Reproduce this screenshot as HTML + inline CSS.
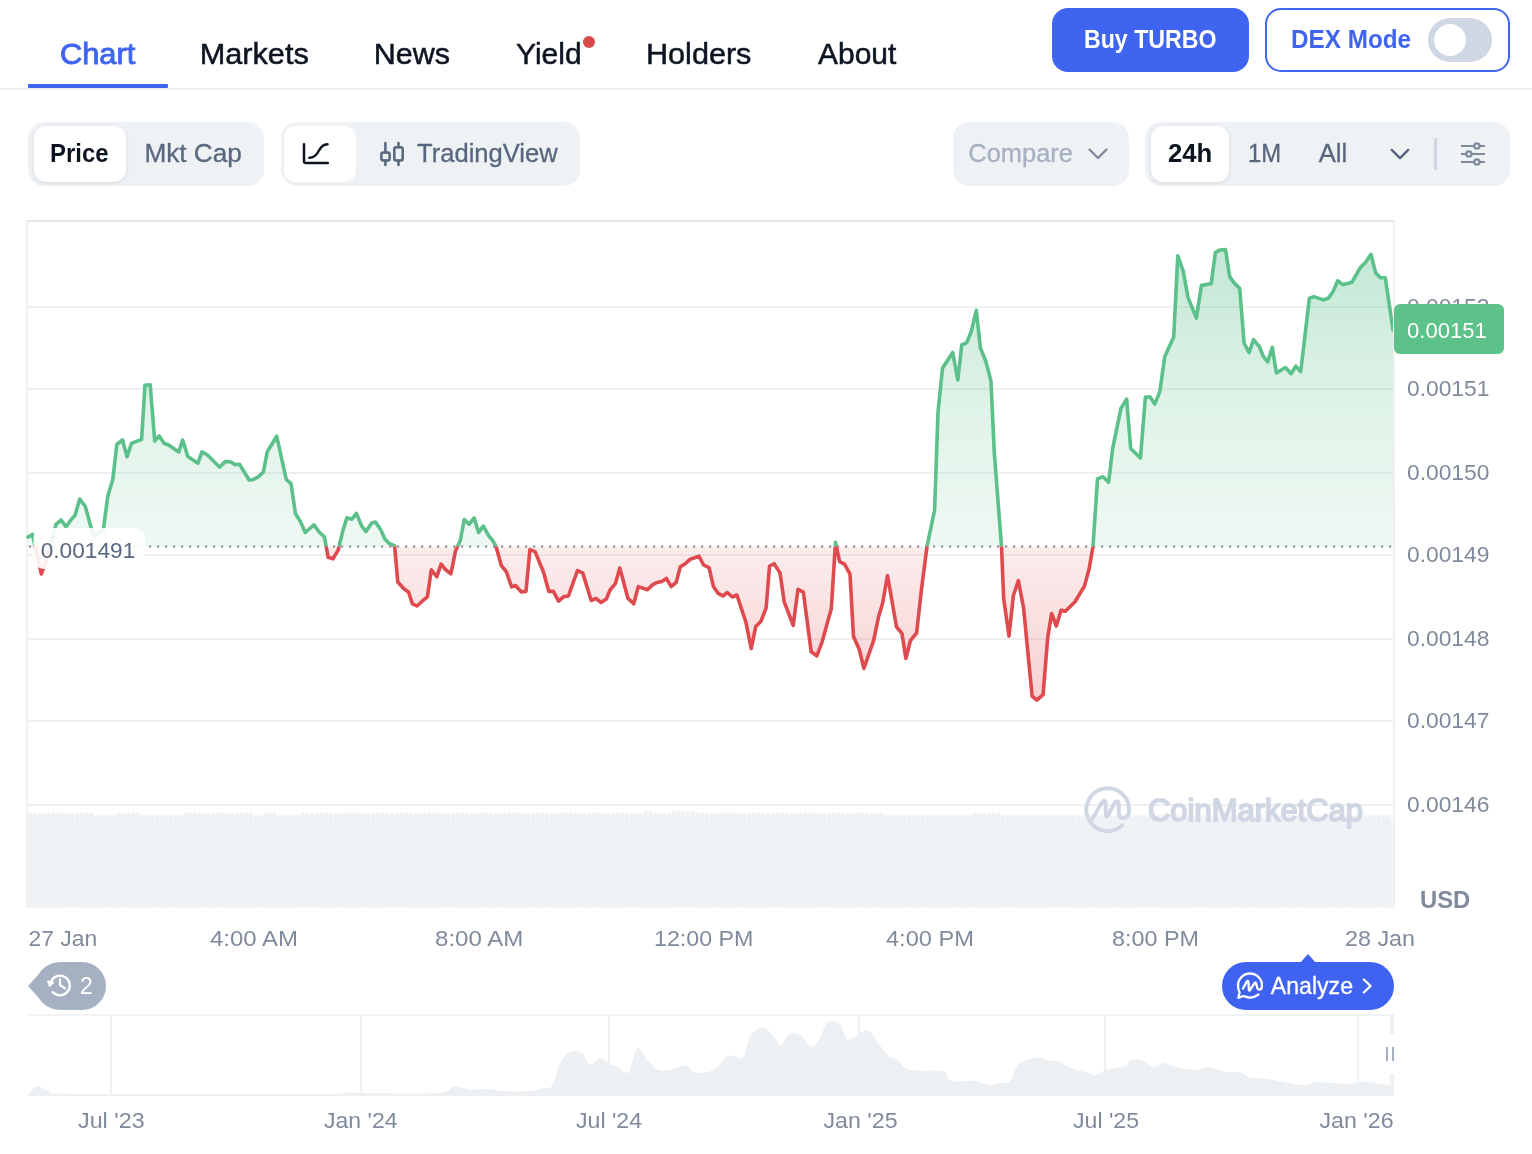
<!DOCTYPE html>
<html><head><meta charset="utf-8"><title>TURBO Chart</title>
<style>
html,body{margin:0;padding:0;background:#fff;}
body{width:1532px;height:1154px;overflow:hidden;position:relative;font-family:"Liberation Sans",sans-serif;}
.box{position:absolute;box-sizing:border-box;}
svg{position:absolute;left:0;top:0;}
svg text{font-family:"Liberation Sans",sans-serif;}
</style></head>
<body>
<!-- header -->
<div class="box" style="left:0;top:88px;width:1532px;height:2px;background:#EFF2F5"></div>
<div class="box" style="left:28px;top:84px;width:140px;height:4px;background:#3F65F0;border-radius:1px"></div>
<div class="box" style="left:1052px;top:8px;width:197px;height:64px;background:#3F65F0;border-radius:16px"></div>
<div class="box" style="left:1265px;top:8px;width:245px;height:64px;border:2px solid #3F65F0;border-radius:16px;background:#fff"></div>
<div class="box" style="left:1428px;top:18px;width:64px;height:44px;background:#CFD6E4;border-radius:22px"></div>
<div class="box" style="left:1434px;top:24px;width:32px;height:32px;background:#fff;border-radius:50%"></div>
<div class="box" style="left:583px;top:36px;width:12px;height:12px;background:#D84949;border-radius:50%"></div>
<!-- controls -->
<div class="box" style="left:28px;top:122px;width:236px;height:64px;background:#EFF2F5;border-radius:16px"></div>
<div class="box" style="left:34px;top:126px;width:92px;height:56px;background:#fff;border-radius:12px;box-shadow:0 1px 4px rgba(88,102,126,0.18)"></div>
<div class="box" style="left:281px;top:122px;width:299px;height:64px;background:#EFF2F5;border-radius:16px"></div>
<div class="box" style="left:284px;top:126px;width:72px;height:56px;background:#fff;border-radius:12px"></div>
<div class="box" style="left:953px;top:122px;width:176px;height:64px;background:#EFF2F5;border-radius:16px"></div>
<div class="box" style="left:1145px;top:122px;width:365px;height:64px;background:#EFF2F5;border-radius:16px"></div>
<div class="box" style="left:1151px;top:126px;width:78px;height:56px;background:#fff;border-radius:12px;box-shadow:0 1px 4px rgba(88,102,126,0.18)"></div>
<div class="box" style="left:1434px;top:138px;width:3px;height:32px;background:#CFD6E4"></div>

<svg width="1532" height="1154" viewBox="0 0 1532 1154" style="will-change:transform">
<defs>
<linearGradient id="gg" x1="0" y1="245" x2="0" y2="546.5" gradientUnits="userSpaceOnUse">
<stop offset="0" stop-color="#5BC08A" stop-opacity="0.37"/>
<stop offset="0.5" stop-color="#5BC08A" stop-opacity="0.2"/>
<stop offset="1" stop-color="#5BC08A" stop-opacity="0.1"/>
</linearGradient>
<linearGradient id="rg" x1="0" y1="546.5" x2="0" y2="705" gradientUnits="userSpaceOnUse">
<stop offset="0" stop-color="#DE4A4D" stop-opacity="0.10"/>
<stop offset="1" stop-color="#DE4A4D" stop-opacity="0.26"/>
</linearGradient>
<clipPath id="up"><rect x="0" y="0" width="1393" height="546.5"/></clipPath>
<clipPath id="dn"><rect x="0" y="546.5" width="1393" height="600"/></clipPath>
</defs>
<!-- chart frame -->
<rect x="26" y="220" width="1369" height="2" fill="#E6E6E6"/>
<rect x="26" y="220" width="2" height="688" fill="#F0F0F0"/>
<rect x="1393" y="220" width="2" height="688" fill="#F0F0F0"/>
<g fill="#F0F0F0">
<rect x="28" y="306" width="1365" height="2"/>
<rect x="28" y="388" width="1365" height="2"/>
<rect x="28" y="472" width="1365" height="2"/>
<rect x="28" y="554" width="1365" height="2"/>
<rect x="28" y="638" width="1365" height="2"/>
<rect x="28" y="720" width="1365" height="2"/>
<rect x="28" y="804" width="1365" height="2"/>
</g>
<!-- volume -->
<rect x="28" y="818" width="1365" height="89.5" fill="#F2F4F7"/>
<g fill="#EFF2F5">
<rect x="28.00" y="812.3" width="4.1" height="95.2" rx="2"/>
<rect x="32.70" y="812.3" width="4.1" height="95.2" rx="2"/>
<rect x="37.40" y="812.3" width="4.1" height="95.2" rx="2"/>
<rect x="42.10" y="812.3" width="4.1" height="95.2" rx="2"/>
<rect x="46.80" y="812.3" width="4.1" height="95.2" rx="2"/>
<rect x="51.50" y="812.3" width="4.1" height="95.2" rx="2"/>
<rect x="56.20" y="812.3" width="4.1" height="95.2" rx="2"/>
<rect x="60.90" y="812.3" width="4.1" height="95.2" rx="2"/>
<rect x="65.60" y="812.3" width="4.1" height="95.2" rx="2"/>
<rect x="70.30" y="812.3" width="4.1" height="95.2" rx="2"/>
<rect x="75.00" y="812.3" width="4.1" height="95.2" rx="2"/>
<rect x="79.70" y="812.3" width="4.1" height="95.2" rx="2"/>
<rect x="84.40" y="812.3" width="4.1" height="95.2" rx="2"/>
<rect x="89.10" y="812.3" width="4.1" height="95.2" rx="2"/>
<rect x="93.80" y="814.8" width="4.1" height="92.7" rx="2"/>
<rect x="98.50" y="814.8" width="4.1" height="92.7" rx="2"/>
<rect x="103.20" y="814.8" width="4.1" height="92.7" rx="2"/>
<rect x="107.90" y="814.8" width="4.1" height="92.7" rx="2"/>
<rect x="112.60" y="814.8" width="4.1" height="92.7" rx="2"/>
<rect x="117.30" y="812.3" width="4.1" height="95.2" rx="2"/>
<rect x="122.00" y="812.3" width="4.1" height="95.2" rx="2"/>
<rect x="126.70" y="812.3" width="4.1" height="95.2" rx="2"/>
<rect x="131.40" y="812.3" width="4.1" height="95.2" rx="2"/>
<rect x="136.10" y="812.3" width="4.1" height="95.2" rx="2"/>
<rect x="140.80" y="814.8" width="4.1" height="92.7" rx="2"/>
<rect x="145.50" y="814.8" width="4.1" height="92.7" rx="2"/>
<rect x="150.20" y="814.8" width="4.1" height="92.7" rx="2"/>
<rect x="154.90" y="814.8" width="4.1" height="92.7" rx="2"/>
<rect x="159.60" y="814.8" width="4.1" height="92.7" rx="2"/>
<rect x="164.30" y="814.8" width="4.1" height="92.7" rx="2"/>
<rect x="169.00" y="814.8" width="4.1" height="92.7" rx="2"/>
<rect x="173.70" y="814.8" width="4.1" height="92.7" rx="2"/>
<rect x="178.40" y="814.8" width="4.1" height="92.7" rx="2"/>
<rect x="183.10" y="812.3" width="4.1" height="95.2" rx="2"/>
<rect x="187.80" y="812.3" width="4.1" height="95.2" rx="2"/>
<rect x="192.50" y="812.3" width="4.1" height="95.2" rx="2"/>
<rect x="197.20" y="812.3" width="4.1" height="95.2" rx="2"/>
<rect x="201.90" y="812.3" width="4.1" height="95.2" rx="2"/>
<rect x="206.60" y="812.3" width="4.1" height="95.2" rx="2"/>
<rect x="211.30" y="812.3" width="4.1" height="95.2" rx="2"/>
<rect x="216.00" y="812.3" width="4.1" height="95.2" rx="2"/>
<rect x="220.70" y="812.3" width="4.1" height="95.2" rx="2"/>
<rect x="225.40" y="812.3" width="4.1" height="95.2" rx="2"/>
<rect x="230.10" y="812.3" width="4.1" height="95.2" rx="2"/>
<rect x="234.80" y="812.3" width="4.1" height="95.2" rx="2"/>
<rect x="239.50" y="812.3" width="4.1" height="95.2" rx="2"/>
<rect x="244.20" y="812.3" width="4.1" height="95.2" rx="2"/>
<rect x="248.90" y="812.3" width="4.1" height="95.2" rx="2"/>
<rect x="253.60" y="814.8" width="4.1" height="92.7" rx="2"/>
<rect x="258.30" y="814.8" width="4.1" height="92.7" rx="2"/>
<rect x="263.00" y="812.3" width="4.1" height="95.2" rx="2"/>
<rect x="267.70" y="812.3" width="4.1" height="95.2" rx="2"/>
<rect x="272.40" y="812.3" width="4.1" height="95.2" rx="2"/>
<rect x="277.10" y="814.8" width="4.1" height="92.7" rx="2"/>
<rect x="281.80" y="814.8" width="4.1" height="92.7" rx="2"/>
<rect x="286.50" y="814.8" width="4.1" height="92.7" rx="2"/>
<rect x="291.20" y="814.8" width="4.1" height="92.7" rx="2"/>
<rect x="295.90" y="814.8" width="4.1" height="92.7" rx="2"/>
<rect x="300.60" y="812.3" width="4.1" height="95.2" rx="2"/>
<rect x="305.30" y="812.3" width="4.1" height="95.2" rx="2"/>
<rect x="310.00" y="812.3" width="4.1" height="95.2" rx="2"/>
<rect x="314.70" y="812.3" width="4.1" height="95.2" rx="2"/>
<rect x="319.40" y="812.3" width="4.1" height="95.2" rx="2"/>
<rect x="324.10" y="812.3" width="4.1" height="95.2" rx="2"/>
<rect x="328.80" y="812.3" width="4.1" height="95.2" rx="2"/>
<rect x="333.50" y="812.3" width="4.1" height="95.2" rx="2"/>
<rect x="338.20" y="812.3" width="4.1" height="95.2" rx="2"/>
<rect x="342.90" y="812.3" width="4.1" height="95.2" rx="2"/>
<rect x="347.60" y="812.3" width="4.1" height="95.2" rx="2"/>
<rect x="352.30" y="812.3" width="4.1" height="95.2" rx="2"/>
<rect x="357.00" y="812.3" width="4.1" height="95.2" rx="2"/>
<rect x="361.70" y="812.3" width="4.1" height="95.2" rx="2"/>
<rect x="366.40" y="812.3" width="4.1" height="95.2" rx="2"/>
<rect x="371.10" y="812.3" width="4.1" height="95.2" rx="2"/>
<rect x="375.80" y="812.3" width="4.1" height="95.2" rx="2"/>
<rect x="380.50" y="812.3" width="4.1" height="95.2" rx="2"/>
<rect x="385.20" y="812.3" width="4.1" height="95.2" rx="2"/>
<rect x="389.90" y="812.3" width="4.1" height="95.2" rx="2"/>
<rect x="394.60" y="812.3" width="4.1" height="95.2" rx="2"/>
<rect x="399.30" y="812.3" width="4.1" height="95.2" rx="2"/>
<rect x="404.00" y="812.3" width="4.1" height="95.2" rx="2"/>
<rect x="408.70" y="812.3" width="4.1" height="95.2" rx="2"/>
<rect x="413.40" y="812.3" width="4.1" height="95.2" rx="2"/>
<rect x="418.10" y="812.3" width="4.1" height="95.2" rx="2"/>
<rect x="422.80" y="812.3" width="4.1" height="95.2" rx="2"/>
<rect x="427.50" y="812.3" width="4.1" height="95.2" rx="2"/>
<rect x="432.20" y="812.3" width="4.1" height="95.2" rx="2"/>
<rect x="436.90" y="812.3" width="4.1" height="95.2" rx="2"/>
<rect x="441.60" y="812.3" width="4.1" height="95.2" rx="2"/>
<rect x="446.30" y="812.3" width="4.1" height="95.2" rx="2"/>
<rect x="451.00" y="812.3" width="4.1" height="95.2" rx="2"/>
<rect x="455.70" y="812.3" width="4.1" height="95.2" rx="2"/>
<rect x="460.40" y="812.3" width="4.1" height="95.2" rx="2"/>
<rect x="465.10" y="812.3" width="4.1" height="95.2" rx="2"/>
<rect x="469.80" y="812.3" width="4.1" height="95.2" rx="2"/>
<rect x="474.50" y="812.3" width="4.1" height="95.2" rx="2"/>
<rect x="479.20" y="812.3" width="4.1" height="95.2" rx="2"/>
<rect x="483.90" y="812.3" width="4.1" height="95.2" rx="2"/>
<rect x="488.60" y="812.3" width="4.1" height="95.2" rx="2"/>
<rect x="493.30" y="812.3" width="4.1" height="95.2" rx="2"/>
<rect x="498.00" y="812.3" width="4.1" height="95.2" rx="2"/>
<rect x="502.70" y="812.3" width="4.1" height="95.2" rx="2"/>
<rect x="507.40" y="812.3" width="4.1" height="95.2" rx="2"/>
<rect x="512.10" y="812.3" width="4.1" height="95.2" rx="2"/>
<rect x="516.80" y="812.3" width="4.1" height="95.2" rx="2"/>
<rect x="521.50" y="812.3" width="4.1" height="95.2" rx="2"/>
<rect x="526.20" y="812.3" width="4.1" height="95.2" rx="2"/>
<rect x="530.90" y="812.3" width="4.1" height="95.2" rx="2"/>
<rect x="535.60" y="812.3" width="4.1" height="95.2" rx="2"/>
<rect x="540.30" y="812.3" width="4.1" height="95.2" rx="2"/>
<rect x="545.00" y="812.3" width="4.1" height="95.2" rx="2"/>
<rect x="549.70" y="812.3" width="4.1" height="95.2" rx="2"/>
<rect x="554.40" y="812.3" width="4.1" height="95.2" rx="2"/>
<rect x="559.10" y="812.3" width="4.1" height="95.2" rx="2"/>
<rect x="563.80" y="812.3" width="4.1" height="95.2" rx="2"/>
<rect x="568.50" y="812.3" width="4.1" height="95.2" rx="2"/>
<rect x="573.20" y="812.3" width="4.1" height="95.2" rx="2"/>
<rect x="577.90" y="812.3" width="4.1" height="95.2" rx="2"/>
<rect x="582.60" y="812.3" width="4.1" height="95.2" rx="2"/>
<rect x="587.30" y="812.3" width="4.1" height="95.2" rx="2"/>
<rect x="592.00" y="812.3" width="4.1" height="95.2" rx="2"/>
<rect x="596.70" y="812.3" width="4.1" height="95.2" rx="2"/>
<rect x="601.40" y="812.3" width="4.1" height="95.2" rx="2"/>
<rect x="606.10" y="812.3" width="4.1" height="95.2" rx="2"/>
<rect x="610.80" y="812.3" width="4.1" height="95.2" rx="2"/>
<rect x="615.50" y="812.3" width="4.1" height="95.2" rx="2"/>
<rect x="620.20" y="812.3" width="4.1" height="95.2" rx="2"/>
<rect x="624.90" y="812.3" width="4.1" height="95.2" rx="2"/>
<rect x="629.60" y="812.3" width="4.1" height="95.2" rx="2"/>
<rect x="634.30" y="812.3" width="4.1" height="95.2" rx="2"/>
<rect x="639.00" y="812.3" width="4.1" height="95.2" rx="2"/>
<rect x="643.70" y="810.5" width="4.1" height="97.0" rx="2"/>
<rect x="648.40" y="810.5" width="4.1" height="97.0" rx="2"/>
<rect x="653.10" y="812.3" width="4.1" height="95.2" rx="2"/>
<rect x="657.80" y="812.3" width="4.1" height="95.2" rx="2"/>
<rect x="662.50" y="812.3" width="4.1" height="95.2" rx="2"/>
<rect x="667.20" y="812.3" width="4.1" height="95.2" rx="2"/>
<rect x="671.90" y="810.5" width="4.1" height="97.0" rx="2"/>
<rect x="676.60" y="810.5" width="4.1" height="97.0" rx="2"/>
<rect x="681.30" y="810.5" width="4.1" height="97.0" rx="2"/>
<rect x="686.00" y="810.5" width="4.1" height="97.0" rx="2"/>
<rect x="690.70" y="810.5" width="4.1" height="97.0" rx="2"/>
<rect x="695.40" y="812.3" width="4.1" height="95.2" rx="2"/>
<rect x="700.10" y="812.3" width="4.1" height="95.2" rx="2"/>
<rect x="704.80" y="812.3" width="4.1" height="95.2" rx="2"/>
<rect x="709.50" y="812.3" width="4.1" height="95.2" rx="2"/>
<rect x="714.20" y="812.3" width="4.1" height="95.2" rx="2"/>
<rect x="718.90" y="812.3" width="4.1" height="95.2" rx="2"/>
<rect x="723.60" y="812.3" width="4.1" height="95.2" rx="2"/>
<rect x="728.30" y="812.3" width="4.1" height="95.2" rx="2"/>
<rect x="733.00" y="812.3" width="4.1" height="95.2" rx="2"/>
<rect x="737.70" y="812.3" width="4.1" height="95.2" rx="2"/>
<rect x="742.40" y="812.3" width="4.1" height="95.2" rx="2"/>
<rect x="747.10" y="812.3" width="4.1" height="95.2" rx="2"/>
<rect x="751.80" y="812.3" width="4.1" height="95.2" rx="2"/>
<rect x="756.50" y="812.3" width="4.1" height="95.2" rx="2"/>
<rect x="761.20" y="812.3" width="4.1" height="95.2" rx="2"/>
<rect x="765.90" y="812.3" width="4.1" height="95.2" rx="2"/>
<rect x="770.60" y="812.3" width="4.1" height="95.2" rx="2"/>
<rect x="775.30" y="812.3" width="4.1" height="95.2" rx="2"/>
<rect x="780.00" y="812.3" width="4.1" height="95.2" rx="2"/>
<rect x="784.70" y="812.3" width="4.1" height="95.2" rx="2"/>
<rect x="789.40" y="812.3" width="4.1" height="95.2" rx="2"/>
<rect x="794.10" y="812.3" width="4.1" height="95.2" rx="2"/>
<rect x="798.80" y="812.3" width="4.1" height="95.2" rx="2"/>
<rect x="803.50" y="812.3" width="4.1" height="95.2" rx="2"/>
<rect x="808.20" y="812.3" width="4.1" height="95.2" rx="2"/>
<rect x="812.90" y="812.3" width="4.1" height="95.2" rx="2"/>
<rect x="817.60" y="812.3" width="4.1" height="95.2" rx="2"/>
<rect x="822.30" y="812.3" width="4.1" height="95.2" rx="2"/>
<rect x="827.00" y="812.3" width="4.1" height="95.2" rx="2"/>
<rect x="831.70" y="812.3" width="4.1" height="95.2" rx="2"/>
<rect x="836.40" y="812.3" width="4.1" height="95.2" rx="2"/>
<rect x="841.10" y="812.3" width="4.1" height="95.2" rx="2"/>
<rect x="845.80" y="812.3" width="4.1" height="95.2" rx="2"/>
<rect x="850.50" y="812.3" width="4.1" height="95.2" rx="2"/>
<rect x="855.20" y="812.3" width="4.1" height="95.2" rx="2"/>
<rect x="859.90" y="812.3" width="4.1" height="95.2" rx="2"/>
<rect x="864.60" y="812.3" width="4.1" height="95.2" rx="2"/>
<rect x="869.30" y="812.3" width="4.1" height="95.2" rx="2"/>
<rect x="874.00" y="812.3" width="4.1" height="95.2" rx="2"/>
<rect x="878.70" y="812.3" width="4.1" height="95.2" rx="2"/>
<rect x="883.40" y="814.8" width="4.1" height="92.7" rx="2"/>
<rect x="888.10" y="814.8" width="4.1" height="92.7" rx="2"/>
<rect x="892.80" y="814.8" width="4.1" height="92.7" rx="2"/>
<rect x="897.50" y="814.8" width="4.1" height="92.7" rx="2"/>
<rect x="902.20" y="814.8" width="4.1" height="92.7" rx="2"/>
<rect x="906.90" y="814.8" width="4.1" height="92.7" rx="2"/>
<rect x="911.60" y="814.8" width="4.1" height="92.7" rx="2"/>
<rect x="916.30" y="814.8" width="4.1" height="92.7" rx="2"/>
<rect x="921.00" y="814.8" width="4.1" height="92.7" rx="2"/>
<rect x="925.70" y="814.8" width="4.1" height="92.7" rx="2"/>
<rect x="930.40" y="814.8" width="4.1" height="92.7" rx="2"/>
<rect x="935.10" y="814.8" width="4.1" height="92.7" rx="2"/>
<rect x="939.80" y="814.8" width="4.1" height="92.7" rx="2"/>
<rect x="944.50" y="814.8" width="4.1" height="92.7" rx="2"/>
<rect x="949.20" y="814.8" width="4.1" height="92.7" rx="2"/>
<rect x="953.90" y="814.8" width="4.1" height="92.7" rx="2"/>
<rect x="958.60" y="814.8" width="4.1" height="92.7" rx="2"/>
<rect x="963.30" y="814.8" width="4.1" height="92.7" rx="2"/>
<rect x="968.00" y="814.8" width="4.1" height="92.7" rx="2"/>
<rect x="972.70" y="812.5" width="4.1" height="95.0" rx="2"/>
<rect x="977.40" y="812.5" width="4.1" height="95.0" rx="2"/>
<rect x="982.10" y="812.5" width="4.1" height="95.0" rx="2"/>
<rect x="986.80" y="812.5" width="4.1" height="95.0" rx="2"/>
<rect x="991.50" y="812.5" width="4.1" height="95.0" rx="2"/>
<rect x="996.20" y="812.5" width="4.1" height="95.0" rx="2"/>
<rect x="1000.90" y="814.8" width="4.1" height="92.7" rx="2"/>
<rect x="1005.60" y="814.8" width="4.1" height="92.7" rx="2"/>
<rect x="1010.30" y="814.8" width="4.1" height="92.7" rx="2"/>
<rect x="1015.00" y="814.8" width="4.1" height="92.7" rx="2"/>
<rect x="1019.70" y="814.8" width="4.1" height="92.7" rx="2"/>
<rect x="1024.40" y="814.8" width="4.1" height="92.7" rx="2"/>
<rect x="1029.10" y="814.8" width="4.1" height="92.7" rx="2"/>
<rect x="1033.80" y="814.8" width="4.1" height="92.7" rx="2"/>
<rect x="1038.50" y="814.8" width="4.1" height="92.7" rx="2"/>
<rect x="1043.20" y="814.8" width="4.1" height="92.7" rx="2"/>
<rect x="1047.90" y="814.8" width="4.1" height="92.7" rx="2"/>
<rect x="1052.60" y="814.8" width="4.1" height="92.7" rx="2"/>
<rect x="1057.30" y="814.8" width="4.1" height="92.7" rx="2"/>
<rect x="1062.00" y="814.8" width="4.1" height="92.7" rx="2"/>
<rect x="1066.70" y="814.8" width="4.1" height="92.7" rx="2"/>
<rect x="1071.40" y="814.8" width="4.1" height="92.7" rx="2"/>
<rect x="1076.10" y="814.8" width="4.1" height="92.7" rx="2"/>
<rect x="1080.80" y="814.8" width="4.1" height="92.7" rx="2"/>
<rect x="1085.50" y="814.8" width="4.1" height="92.7" rx="2"/>
<rect x="1090.20" y="814.8" width="4.1" height="92.7" rx="2"/>
<rect x="1094.90" y="814.8" width="4.1" height="92.7" rx="2"/>
<rect x="1099.60" y="814.8" width="4.1" height="92.7" rx="2"/>
<rect x="1104.30" y="814.8" width="4.1" height="92.7" rx="2"/>
<rect x="1109.00" y="814.8" width="4.1" height="92.7" rx="2"/>
<rect x="1113.70" y="814.8" width="4.1" height="92.7" rx="2"/>
<rect x="1118.40" y="814.8" width="4.1" height="92.7" rx="2"/>
<rect x="1123.10" y="814.8" width="4.1" height="92.7" rx="2"/>
<rect x="1127.80" y="814.8" width="4.1" height="92.7" rx="2"/>
<rect x="1132.50" y="814.8" width="4.1" height="92.7" rx="2"/>
<rect x="1137.20" y="814.8" width="4.1" height="92.7" rx="2"/>
<rect x="1141.90" y="814.8" width="4.1" height="92.7" rx="2"/>
<rect x="1146.60" y="814.8" width="4.1" height="92.7" rx="2"/>
<rect x="1151.30" y="814.8" width="4.1" height="92.7" rx="2"/>
<rect x="1156.00" y="814.8" width="4.1" height="92.7" rx="2"/>
<rect x="1160.70" y="814.8" width="4.1" height="92.7" rx="2"/>
<rect x="1165.40" y="814.8" width="4.1" height="92.7" rx="2"/>
<rect x="1170.10" y="814.8" width="4.1" height="92.7" rx="2"/>
<rect x="1174.80" y="814.8" width="4.1" height="92.7" rx="2"/>
<rect x="1179.50" y="814.8" width="4.1" height="92.7" rx="2"/>
<rect x="1184.20" y="814.8" width="4.1" height="92.7" rx="2"/>
<rect x="1188.90" y="814.8" width="4.1" height="92.7" rx="2"/>
<rect x="1193.60" y="814.8" width="4.1" height="92.7" rx="2"/>
<rect x="1198.30" y="814.8" width="4.1" height="92.7" rx="2"/>
<rect x="1203.00" y="814.8" width="4.1" height="92.7" rx="2"/>
<rect x="1207.70" y="814.8" width="4.1" height="92.7" rx="2"/>
<rect x="1212.40" y="814.8" width="4.1" height="92.7" rx="2"/>
<rect x="1217.10" y="814.8" width="4.1" height="92.7" rx="2"/>
<rect x="1221.80" y="814.8" width="4.1" height="92.7" rx="2"/>
<rect x="1226.50" y="814.8" width="4.1" height="92.7" rx="2"/>
<rect x="1231.20" y="814.8" width="4.1" height="92.7" rx="2"/>
<rect x="1235.90" y="814.8" width="4.1" height="92.7" rx="2"/>
<rect x="1240.60" y="814.8" width="4.1" height="92.7" rx="2"/>
<rect x="1245.30" y="814.8" width="4.1" height="92.7" rx="2"/>
<rect x="1250.00" y="814.8" width="4.1" height="92.7" rx="2"/>
<rect x="1254.70" y="814.8" width="4.1" height="92.7" rx="2"/>
<rect x="1259.40" y="814.8" width="4.1" height="92.7" rx="2"/>
<rect x="1264.10" y="814.8" width="4.1" height="92.7" rx="2"/>
<rect x="1268.80" y="814.8" width="4.1" height="92.7" rx="2"/>
<rect x="1273.50" y="814.8" width="4.1" height="92.7" rx="2"/>
<rect x="1278.20" y="814.8" width="4.1" height="92.7" rx="2"/>
<rect x="1282.90" y="814.8" width="4.1" height="92.7" rx="2"/>
<rect x="1287.60" y="814.8" width="4.1" height="92.7" rx="2"/>
<rect x="1292.30" y="814.8" width="4.1" height="92.7" rx="2"/>
<rect x="1297.00" y="814.8" width="4.1" height="92.7" rx="2"/>
<rect x="1301.70" y="814.8" width="4.1" height="92.7" rx="2"/>
<rect x="1306.40" y="814.8" width="4.1" height="92.7" rx="2"/>
<rect x="1311.10" y="814.8" width="4.1" height="92.7" rx="2"/>
<rect x="1315.80" y="814.8" width="4.1" height="92.7" rx="2"/>
<rect x="1320.50" y="814.8" width="4.1" height="92.7" rx="2"/>
<rect x="1325.20" y="814.8" width="4.1" height="92.7" rx="2"/>
<rect x="1329.90" y="814.8" width="4.1" height="92.7" rx="2"/>
<rect x="1334.60" y="814.8" width="4.1" height="92.7" rx="2"/>
<rect x="1339.30" y="814.8" width="4.1" height="92.7" rx="2"/>
<rect x="1344.00" y="814.8" width="4.1" height="92.7" rx="2"/>
<rect x="1348.70" y="814.8" width="4.1" height="92.7" rx="2"/>
<rect x="1353.40" y="814.8" width="4.1" height="92.7" rx="2"/>
<rect x="1358.10" y="814.8" width="4.1" height="92.7" rx="2"/>
<rect x="1362.80" y="814.8" width="4.1" height="92.7" rx="2"/>
<rect x="1367.50" y="814.8" width="4.1" height="92.7" rx="2"/>
<rect x="1372.20" y="814.8" width="4.1" height="92.7" rx="2"/>
<rect x="1376.90" y="814.8" width="4.1" height="92.7" rx="2"/>
<rect x="1381.60" y="814.8" width="4.1" height="92.7" rx="2"/>
<rect x="1386.30" y="814.8" width="4.1" height="92.7" rx="2"/>
</g>
<!-- watermark -->
<g fill="none" stroke="#D0D6E3" stroke-width="3.9" stroke-linecap="round" stroke-linejoin="round">
<path d="M1122.5,825.2 A21.4,21.4 0 1 1 1129,812 C1128.2,816 1126.3,818 1123.6,818 C1120.3,818 1118.8,815.5 1118.8,811.5 L1118.8,804.5 C1118.8,800.8 1116.3,800.2 1114.6,803 L1108,815 C1106.8,817.4 1105.9,816.8 1105.8,814.5 L1105.6,803.5 C1105.5,800.2 1103.6,799.8 1101.9,802.5 L1091.2,820.8"/>
</g>
<!-- area fills -->
<path d="M28.0,537.0 L32.4,534.5 L41.4,574.0 L47.0,558.0 L56.0,524.4 L61.0,520.0 L66.0,526.7 L71.8,518.8 L75.0,515.4 L79.7,499.0 L85.3,506.4 L92.0,531.0 L94.3,535.7 L103.3,530.0 L107.8,496.0 L112.8,479.4 L116.8,444.5 L122.5,440.0 L127.0,456.8 L131.5,443.3 L141.6,439.3 L145.0,385.2 L150.2,384.8 L154.7,441.0 L159.2,436.0 L164.0,443.3 L168.6,445.0 L178.8,451.9 L182.6,440.0 L187.8,456.4 L197.9,463.2 L202.0,451.9 L207.0,454.6 L213.7,461.3 L219.5,467.1 L225.6,461.4 L231.0,462.0 L234.8,464.4 L239.6,464.4 L249.1,480.0 L252.9,479.7 L258.6,476.6 L263.4,472.0 L267.2,451.9 L276.7,436.2 L286.3,479.7 L291.0,483.5 L295.4,513.4 L300.6,522.0 L305.3,532.5 L313.9,524.9 L319.6,532.5 L324.4,536.9 L328.2,557.3 L333.0,558.8 L338.1,550.2 L342.9,530.6 L346.9,517.8 L352.0,519.2 L356.4,513.4 L361.6,525.8 L366.0,531.6 L371.7,523.0 L375.5,522.0 L380.6,529.6 L385.0,539.2 L389.2,543.4 L394.6,545.9 L397.8,582.0 L403.9,588.8 L408.5,592.0 L412.4,603.8 L417.0,606.0 L422.2,601.2 L427.4,596.9 L431.3,569.8 L436.8,576.8 L441.1,564.2 L445.7,569.8 L450.9,573.8 L455.5,550.9 L460.3,540.5 L464.2,519.6 L469.2,524.2 L474.2,518.0 L478.6,532.4 L483.3,526.1 L488.8,535.9 L492.7,540.5 L496.0,546.3 L501.2,565.3 L506.4,571.8 L511.6,586.8 L515.5,585.5 L521.4,592.0 L526.0,591.4 L529.9,549.6 L535.1,551.6 L543.6,572.5 L548.8,591.4 L553.4,591.4 L558.6,601.2 L563.8,596.6 L568.4,596.0 L577.5,570.5 L582.8,573.1 L591.2,600.5 L595.9,598.3 L601.1,602.5 L606.3,599.0 L610.2,589.8 L615.5,583.3 L619.8,568.0 L627.9,598.3 L633.7,603.8 L638.3,586.6 L647.4,589.8 L652.7,584.6 L657.2,582.4 L661.8,581.6 L666.4,578.5 L671.2,586.6 L676.2,582.4 L680.3,566.7 L685.3,563.7 L690.3,559.2 L699.0,556.3 L703.6,565.0 L709.1,567.7 L713.4,586.6 L717.9,593.1 L722.9,596.0 L727.3,592.5 L732.3,597.0 L736.9,595.0 L746.0,622.5 L751.2,648.6 L755.8,626.4 L761.0,621.2 L766.2,607.5 L769.5,566.3 L774.1,563.7 L780.0,572.9 L784.2,601.8 L793.2,625.4 L798.0,589.3 L803.3,592.1 L811.2,651.8 L816.8,655.9 L821.6,643.4 L831.3,608.8 L835.5,542.2 L839.6,561.6 L844.5,564.1 L850.0,574.1 L853.5,636.5 L859.1,649.0 L863.9,668.4 L873.6,640.7 L878.5,617.1 L882.6,603.2 L887.5,575.5 L896.5,626.8 L902.0,633.7 L905.9,658.4 L910.4,640.7 L916.6,633.0 L921.5,589.3 L927.0,546.4 L934.6,510.1 L938.0,412.1 L942.5,368.2 L952.7,352.4 L957.8,380.1 L961.7,345.0 L966.8,342.7 L971.4,331.0 L976.3,310.3 L980.4,347.9 L985.8,361.4 L990.9,380.6 L994.3,452.7 L1001.5,546.4 L1003.7,598.7 L1009.0,636.1 L1013.4,595.5 L1018.4,580.7 L1023.6,608.0 L1032.1,696.2 L1036.8,700.1 L1043.1,694.6 L1047.7,637.7 L1051.6,613.5 L1056.3,626.0 L1061.0,610.4 L1065.7,611.1 L1075.0,601.8 L1084.4,586.2 L1089.1,569.0 L1093.0,546.4 L1097.5,478.9 L1103.0,476.7 L1108.6,482.2 L1112.7,448.4 L1121.0,408.2 L1126.6,399.1 L1130.7,448.4 L1140.4,458.1 L1145.4,397.1 L1150.1,397.1 L1154.8,404.1 L1159.8,391.6 L1164.8,356.4 L1173.7,337.0 L1177.8,255.8 L1183.2,271.0 L1188.0,297.4 L1196.4,318.1 L1201.4,285.4 L1211.2,283.8 L1215.4,252.3 L1220.3,250.0 L1225.5,249.6 L1229.7,276.6 L1234.1,282.9 L1239.7,288.4 L1244.1,343.2 L1249.1,352.6 L1253.5,339.7 L1259.4,346.7 L1263.3,356.4 L1267.7,361.9 L1272.3,347.3 L1276.4,373.0 L1285.4,367.5 L1291.0,373.7 L1295.8,366.1 L1300.7,371.6 L1309.4,298.1 L1313.9,296.7 L1323.6,299.9 L1328.4,298.1 L1333.3,291.2 L1337.7,280.8 L1343.0,284.7 L1352.0,282.2 L1360.3,267.6 L1365.2,262.7 L1371.0,254.4 L1375.6,272.7 L1380.4,277.7 L1385.3,277.7 L1393.0,330.0 L1393.0,546.5 L28.0,546.5 Z" fill="url(#gg)" clip-path="url(#up)"/>
<path d="M28.0,537.0 L32.4,534.5 L41.4,574.0 L47.0,558.0 L56.0,524.4 L61.0,520.0 L66.0,526.7 L71.8,518.8 L75.0,515.4 L79.7,499.0 L85.3,506.4 L92.0,531.0 L94.3,535.7 L103.3,530.0 L107.8,496.0 L112.8,479.4 L116.8,444.5 L122.5,440.0 L127.0,456.8 L131.5,443.3 L141.6,439.3 L145.0,385.2 L150.2,384.8 L154.7,441.0 L159.2,436.0 L164.0,443.3 L168.6,445.0 L178.8,451.9 L182.6,440.0 L187.8,456.4 L197.9,463.2 L202.0,451.9 L207.0,454.6 L213.7,461.3 L219.5,467.1 L225.6,461.4 L231.0,462.0 L234.8,464.4 L239.6,464.4 L249.1,480.0 L252.9,479.7 L258.6,476.6 L263.4,472.0 L267.2,451.9 L276.7,436.2 L286.3,479.7 L291.0,483.5 L295.4,513.4 L300.6,522.0 L305.3,532.5 L313.9,524.9 L319.6,532.5 L324.4,536.9 L328.2,557.3 L333.0,558.8 L338.1,550.2 L342.9,530.6 L346.9,517.8 L352.0,519.2 L356.4,513.4 L361.6,525.8 L366.0,531.6 L371.7,523.0 L375.5,522.0 L380.6,529.6 L385.0,539.2 L389.2,543.4 L394.6,545.9 L397.8,582.0 L403.9,588.8 L408.5,592.0 L412.4,603.8 L417.0,606.0 L422.2,601.2 L427.4,596.9 L431.3,569.8 L436.8,576.8 L441.1,564.2 L445.7,569.8 L450.9,573.8 L455.5,550.9 L460.3,540.5 L464.2,519.6 L469.2,524.2 L474.2,518.0 L478.6,532.4 L483.3,526.1 L488.8,535.9 L492.7,540.5 L496.0,546.3 L501.2,565.3 L506.4,571.8 L511.6,586.8 L515.5,585.5 L521.4,592.0 L526.0,591.4 L529.9,549.6 L535.1,551.6 L543.6,572.5 L548.8,591.4 L553.4,591.4 L558.6,601.2 L563.8,596.6 L568.4,596.0 L577.5,570.5 L582.8,573.1 L591.2,600.5 L595.9,598.3 L601.1,602.5 L606.3,599.0 L610.2,589.8 L615.5,583.3 L619.8,568.0 L627.9,598.3 L633.7,603.8 L638.3,586.6 L647.4,589.8 L652.7,584.6 L657.2,582.4 L661.8,581.6 L666.4,578.5 L671.2,586.6 L676.2,582.4 L680.3,566.7 L685.3,563.7 L690.3,559.2 L699.0,556.3 L703.6,565.0 L709.1,567.7 L713.4,586.6 L717.9,593.1 L722.9,596.0 L727.3,592.5 L732.3,597.0 L736.9,595.0 L746.0,622.5 L751.2,648.6 L755.8,626.4 L761.0,621.2 L766.2,607.5 L769.5,566.3 L774.1,563.7 L780.0,572.9 L784.2,601.8 L793.2,625.4 L798.0,589.3 L803.3,592.1 L811.2,651.8 L816.8,655.9 L821.6,643.4 L831.3,608.8 L835.5,542.2 L839.6,561.6 L844.5,564.1 L850.0,574.1 L853.5,636.5 L859.1,649.0 L863.9,668.4 L873.6,640.7 L878.5,617.1 L882.6,603.2 L887.5,575.5 L896.5,626.8 L902.0,633.7 L905.9,658.4 L910.4,640.7 L916.6,633.0 L921.5,589.3 L927.0,546.4 L934.6,510.1 L938.0,412.1 L942.5,368.2 L952.7,352.4 L957.8,380.1 L961.7,345.0 L966.8,342.7 L971.4,331.0 L976.3,310.3 L980.4,347.9 L985.8,361.4 L990.9,380.6 L994.3,452.7 L1001.5,546.4 L1003.7,598.7 L1009.0,636.1 L1013.4,595.5 L1018.4,580.7 L1023.6,608.0 L1032.1,696.2 L1036.8,700.1 L1043.1,694.6 L1047.7,637.7 L1051.6,613.5 L1056.3,626.0 L1061.0,610.4 L1065.7,611.1 L1075.0,601.8 L1084.4,586.2 L1089.1,569.0 L1093.0,546.4 L1097.5,478.9 L1103.0,476.7 L1108.6,482.2 L1112.7,448.4 L1121.0,408.2 L1126.6,399.1 L1130.7,448.4 L1140.4,458.1 L1145.4,397.1 L1150.1,397.1 L1154.8,404.1 L1159.8,391.6 L1164.8,356.4 L1173.7,337.0 L1177.8,255.8 L1183.2,271.0 L1188.0,297.4 L1196.4,318.1 L1201.4,285.4 L1211.2,283.8 L1215.4,252.3 L1220.3,250.0 L1225.5,249.6 L1229.7,276.6 L1234.1,282.9 L1239.7,288.4 L1244.1,343.2 L1249.1,352.6 L1253.5,339.7 L1259.4,346.7 L1263.3,356.4 L1267.7,361.9 L1272.3,347.3 L1276.4,373.0 L1285.4,367.5 L1291.0,373.7 L1295.8,366.1 L1300.7,371.6 L1309.4,298.1 L1313.9,296.7 L1323.6,299.9 L1328.4,298.1 L1333.3,291.2 L1337.7,280.8 L1343.0,284.7 L1352.0,282.2 L1360.3,267.6 L1365.2,262.7 L1371.0,254.4 L1375.6,272.7 L1380.4,277.7 L1385.3,277.7 L1393.0,330.0 L1393.0,546.5 L28.0,546.5 Z" fill="url(#rg)" clip-path="url(#dn)"/>
<!-- baseline dots -->
<line x1="29" y1="546.5" x2="1393" y2="546.5" stroke="#83888F" stroke-width="2.2" stroke-dasharray="2.2 5.8"/>
<!-- lines -->
<path d="M28.0,537.0 L32.4,534.5 L41.4,574.0 L47.0,558.0 L56.0,524.4 L61.0,520.0 L66.0,526.7 L71.8,518.8 L75.0,515.4 L79.7,499.0 L85.3,506.4 L92.0,531.0 L94.3,535.7 L103.3,530.0 L107.8,496.0 L112.8,479.4 L116.8,444.5 L122.5,440.0 L127.0,456.8 L131.5,443.3 L141.6,439.3 L145.0,385.2 L150.2,384.8 L154.7,441.0 L159.2,436.0 L164.0,443.3 L168.6,445.0 L178.8,451.9 L182.6,440.0 L187.8,456.4 L197.9,463.2 L202.0,451.9 L207.0,454.6 L213.7,461.3 L219.5,467.1 L225.6,461.4 L231.0,462.0 L234.8,464.4 L239.6,464.4 L249.1,480.0 L252.9,479.7 L258.6,476.6 L263.4,472.0 L267.2,451.9 L276.7,436.2 L286.3,479.7 L291.0,483.5 L295.4,513.4 L300.6,522.0 L305.3,532.5 L313.9,524.9 L319.6,532.5 L324.4,536.9 L328.2,557.3 L333.0,558.8 L338.1,550.2 L342.9,530.6 L346.9,517.8 L352.0,519.2 L356.4,513.4 L361.6,525.8 L366.0,531.6 L371.7,523.0 L375.5,522.0 L380.6,529.6 L385.0,539.2 L389.2,543.4 L394.6,545.9 L397.8,582.0 L403.9,588.8 L408.5,592.0 L412.4,603.8 L417.0,606.0 L422.2,601.2 L427.4,596.9 L431.3,569.8 L436.8,576.8 L441.1,564.2 L445.7,569.8 L450.9,573.8 L455.5,550.9 L460.3,540.5 L464.2,519.6 L469.2,524.2 L474.2,518.0 L478.6,532.4 L483.3,526.1 L488.8,535.9 L492.7,540.5 L496.0,546.3 L501.2,565.3 L506.4,571.8 L511.6,586.8 L515.5,585.5 L521.4,592.0 L526.0,591.4 L529.9,549.6 L535.1,551.6 L543.6,572.5 L548.8,591.4 L553.4,591.4 L558.6,601.2 L563.8,596.6 L568.4,596.0 L577.5,570.5 L582.8,573.1 L591.2,600.5 L595.9,598.3 L601.1,602.5 L606.3,599.0 L610.2,589.8 L615.5,583.3 L619.8,568.0 L627.9,598.3 L633.7,603.8 L638.3,586.6 L647.4,589.8 L652.7,584.6 L657.2,582.4 L661.8,581.6 L666.4,578.5 L671.2,586.6 L676.2,582.4 L680.3,566.7 L685.3,563.7 L690.3,559.2 L699.0,556.3 L703.6,565.0 L709.1,567.7 L713.4,586.6 L717.9,593.1 L722.9,596.0 L727.3,592.5 L732.3,597.0 L736.9,595.0 L746.0,622.5 L751.2,648.6 L755.8,626.4 L761.0,621.2 L766.2,607.5 L769.5,566.3 L774.1,563.7 L780.0,572.9 L784.2,601.8 L793.2,625.4 L798.0,589.3 L803.3,592.1 L811.2,651.8 L816.8,655.9 L821.6,643.4 L831.3,608.8 L835.5,542.2 L839.6,561.6 L844.5,564.1 L850.0,574.1 L853.5,636.5 L859.1,649.0 L863.9,668.4 L873.6,640.7 L878.5,617.1 L882.6,603.2 L887.5,575.5 L896.5,626.8 L902.0,633.7 L905.9,658.4 L910.4,640.7 L916.6,633.0 L921.5,589.3 L927.0,546.4 L934.6,510.1 L938.0,412.1 L942.5,368.2 L952.7,352.4 L957.8,380.1 L961.7,345.0 L966.8,342.7 L971.4,331.0 L976.3,310.3 L980.4,347.9 L985.8,361.4 L990.9,380.6 L994.3,452.7 L1001.5,546.4 L1003.7,598.7 L1009.0,636.1 L1013.4,595.5 L1018.4,580.7 L1023.6,608.0 L1032.1,696.2 L1036.8,700.1 L1043.1,694.6 L1047.7,637.7 L1051.6,613.5 L1056.3,626.0 L1061.0,610.4 L1065.7,611.1 L1075.0,601.8 L1084.4,586.2 L1089.1,569.0 L1093.0,546.4 L1097.5,478.9 L1103.0,476.7 L1108.6,482.2 L1112.7,448.4 L1121.0,408.2 L1126.6,399.1 L1130.7,448.4 L1140.4,458.1 L1145.4,397.1 L1150.1,397.1 L1154.8,404.1 L1159.8,391.6 L1164.8,356.4 L1173.7,337.0 L1177.8,255.8 L1183.2,271.0 L1188.0,297.4 L1196.4,318.1 L1201.4,285.4 L1211.2,283.8 L1215.4,252.3 L1220.3,250.0 L1225.5,249.6 L1229.7,276.6 L1234.1,282.9 L1239.7,288.4 L1244.1,343.2 L1249.1,352.6 L1253.5,339.7 L1259.4,346.7 L1263.3,356.4 L1267.7,361.9 L1272.3,347.3 L1276.4,373.0 L1285.4,367.5 L1291.0,373.7 L1295.8,366.1 L1300.7,371.6 L1309.4,298.1 L1313.9,296.7 L1323.6,299.9 L1328.4,298.1 L1333.3,291.2 L1337.7,280.8 L1343.0,284.7 L1352.0,282.2 L1360.3,267.6 L1365.2,262.7 L1371.0,254.4 L1375.6,272.7 L1380.4,277.7 L1385.3,277.7 L1393.0,330.0" fill="none" stroke="#5BC08A" stroke-width="3.6" stroke-linejoin="round" stroke-linecap="round" clip-path="url(#up)"/>
<path d="M28.0,537.0 L32.4,534.5 L41.4,574.0 L47.0,558.0 L56.0,524.4 L61.0,520.0 L66.0,526.7 L71.8,518.8 L75.0,515.4 L79.7,499.0 L85.3,506.4 L92.0,531.0 L94.3,535.7 L103.3,530.0 L107.8,496.0 L112.8,479.4 L116.8,444.5 L122.5,440.0 L127.0,456.8 L131.5,443.3 L141.6,439.3 L145.0,385.2 L150.2,384.8 L154.7,441.0 L159.2,436.0 L164.0,443.3 L168.6,445.0 L178.8,451.9 L182.6,440.0 L187.8,456.4 L197.9,463.2 L202.0,451.9 L207.0,454.6 L213.7,461.3 L219.5,467.1 L225.6,461.4 L231.0,462.0 L234.8,464.4 L239.6,464.4 L249.1,480.0 L252.9,479.7 L258.6,476.6 L263.4,472.0 L267.2,451.9 L276.7,436.2 L286.3,479.7 L291.0,483.5 L295.4,513.4 L300.6,522.0 L305.3,532.5 L313.9,524.9 L319.6,532.5 L324.4,536.9 L328.2,557.3 L333.0,558.8 L338.1,550.2 L342.9,530.6 L346.9,517.8 L352.0,519.2 L356.4,513.4 L361.6,525.8 L366.0,531.6 L371.7,523.0 L375.5,522.0 L380.6,529.6 L385.0,539.2 L389.2,543.4 L394.6,545.9 L397.8,582.0 L403.9,588.8 L408.5,592.0 L412.4,603.8 L417.0,606.0 L422.2,601.2 L427.4,596.9 L431.3,569.8 L436.8,576.8 L441.1,564.2 L445.7,569.8 L450.9,573.8 L455.5,550.9 L460.3,540.5 L464.2,519.6 L469.2,524.2 L474.2,518.0 L478.6,532.4 L483.3,526.1 L488.8,535.9 L492.7,540.5 L496.0,546.3 L501.2,565.3 L506.4,571.8 L511.6,586.8 L515.5,585.5 L521.4,592.0 L526.0,591.4 L529.9,549.6 L535.1,551.6 L543.6,572.5 L548.8,591.4 L553.4,591.4 L558.6,601.2 L563.8,596.6 L568.4,596.0 L577.5,570.5 L582.8,573.1 L591.2,600.5 L595.9,598.3 L601.1,602.5 L606.3,599.0 L610.2,589.8 L615.5,583.3 L619.8,568.0 L627.9,598.3 L633.7,603.8 L638.3,586.6 L647.4,589.8 L652.7,584.6 L657.2,582.4 L661.8,581.6 L666.4,578.5 L671.2,586.6 L676.2,582.4 L680.3,566.7 L685.3,563.7 L690.3,559.2 L699.0,556.3 L703.6,565.0 L709.1,567.7 L713.4,586.6 L717.9,593.1 L722.9,596.0 L727.3,592.5 L732.3,597.0 L736.9,595.0 L746.0,622.5 L751.2,648.6 L755.8,626.4 L761.0,621.2 L766.2,607.5 L769.5,566.3 L774.1,563.7 L780.0,572.9 L784.2,601.8 L793.2,625.4 L798.0,589.3 L803.3,592.1 L811.2,651.8 L816.8,655.9 L821.6,643.4 L831.3,608.8 L835.5,542.2 L839.6,561.6 L844.5,564.1 L850.0,574.1 L853.5,636.5 L859.1,649.0 L863.9,668.4 L873.6,640.7 L878.5,617.1 L882.6,603.2 L887.5,575.5 L896.5,626.8 L902.0,633.7 L905.9,658.4 L910.4,640.7 L916.6,633.0 L921.5,589.3 L927.0,546.4 L934.6,510.1 L938.0,412.1 L942.5,368.2 L952.7,352.4 L957.8,380.1 L961.7,345.0 L966.8,342.7 L971.4,331.0 L976.3,310.3 L980.4,347.9 L985.8,361.4 L990.9,380.6 L994.3,452.7 L1001.5,546.4 L1003.7,598.7 L1009.0,636.1 L1013.4,595.5 L1018.4,580.7 L1023.6,608.0 L1032.1,696.2 L1036.8,700.1 L1043.1,694.6 L1047.7,637.7 L1051.6,613.5 L1056.3,626.0 L1061.0,610.4 L1065.7,611.1 L1075.0,601.8 L1084.4,586.2 L1089.1,569.0 L1093.0,546.4 L1097.5,478.9 L1103.0,476.7 L1108.6,482.2 L1112.7,448.4 L1121.0,408.2 L1126.6,399.1 L1130.7,448.4 L1140.4,458.1 L1145.4,397.1 L1150.1,397.1 L1154.8,404.1 L1159.8,391.6 L1164.8,356.4 L1173.7,337.0 L1177.8,255.8 L1183.2,271.0 L1188.0,297.4 L1196.4,318.1 L1201.4,285.4 L1211.2,283.8 L1215.4,252.3 L1220.3,250.0 L1225.5,249.6 L1229.7,276.6 L1234.1,282.9 L1239.7,288.4 L1244.1,343.2 L1249.1,352.6 L1253.5,339.7 L1259.4,346.7 L1263.3,356.4 L1267.7,361.9 L1272.3,347.3 L1276.4,373.0 L1285.4,367.5 L1291.0,373.7 L1295.8,366.1 L1300.7,371.6 L1309.4,298.1 L1313.9,296.7 L1323.6,299.9 L1328.4,298.1 L1333.3,291.2 L1337.7,280.8 L1343.0,284.7 L1352.0,282.2 L1360.3,267.6 L1365.2,262.7 L1371.0,254.4 L1375.6,272.7 L1380.4,277.7 L1385.3,277.7 L1393.0,330.0" fill="none" stroke="#DE4A4D" stroke-width="3.6" stroke-linejoin="round" stroke-linecap="round" clip-path="url(#dn)"/>

<!-- icons -->
<g fill="none" stroke-linecap="round" stroke-linejoin="round">
<path d="M304,144.3 L304,161.3 Q304,163.1 305.8,163.1 L327.8,163.1" stroke="#0D1421" stroke-width="2.5"/>
<path d="M309.4,157.8 C313,157.4 315,156.5 317,153.6 C319.5,149.8 320.5,147.6 322.8,145.8 C324.3,144.7 326,144.4 327.5,144.3" stroke="#0D1421" stroke-width="2.5"/>
<g stroke="#58667E" stroke-width="2.5">
<path d="M385.4,143 L385.4,152.6 M385.4,160.6 L385.4,165"/>
<rect x="381.4" y="152.6" width="8.2" height="8" rx="2"/>
<path d="M398.5,143 L398.5,147.3 M398.5,160.6 L398.5,165"/>
<rect x="394.3" y="147.3" width="8.4" height="13.3" rx="2"/>
</g>
<path d="M1089.5,149.5 L1098,158 L1106.5,149.5" stroke="#808A9D" stroke-width="2.4"/>
<path d="M1391.7,149.9 L1400,158.2 L1408.2,149.9" stroke="#58667E" stroke-width="2.4"/>
<g stroke="#808A9D" stroke-width="2.2">
<path d="M1461.8,146 L1474.2,146 M1479.6,146 L1484.2,146"/>
<path d="M1461.8,154 L1466.2,154 M1471.6,154 L1484.2,154"/>
<path d="M1461.8,162 L1474.2,162 M1479.6,162 L1484.2,162"/>
<circle cx="1476.9" cy="146" r="2.7"/>
<circle cx="1468.9" cy="154" r="2.7"/>
<circle cx="1476.9" cy="162" r="2.7"/>
</g>
</g>
<!-- texts -->
<text x="59.97" y="64" font-size="30" font-weight="normal" fill="#3F65F0" stroke="#3F65F0" stroke-width="0.9" textLength="75.34" lengthAdjust="spacingAndGlyphs">Chart</text>
<text x="199.65" y="64" font-size="30" font-weight="normal" fill="#0D1421" stroke="#0D1421" stroke-width="0.5" textLength="109.17" lengthAdjust="spacingAndGlyphs">Markets</text>
<text x="373.77" y="64" font-size="30" font-weight="normal" fill="#0D1421" stroke="#0D1421" stroke-width="0.5" textLength="76.25" lengthAdjust="spacingAndGlyphs">News</text>
<text x="516.00" y="64" font-size="30" font-weight="normal" fill="#0D1421" stroke="#0D1421" stroke-width="0.5" textLength="65.69" lengthAdjust="spacingAndGlyphs">Yield</text>
<text x="645.96" y="64" font-size="30" font-weight="normal" fill="#0D1421" stroke="#0D1421" stroke-width="0.5" textLength="105.46" lengthAdjust="spacingAndGlyphs">Holders</text>
<text x="818.00" y="64" font-size="30" font-weight="normal" fill="#0D1421" stroke="#0D1421" stroke-width="0.5" textLength="78.34" lengthAdjust="spacingAndGlyphs">About</text>
<text x="1083.93" y="48.2" font-size="26.5" font-weight="bold" fill="#FFFFFF" textLength="132.61" lengthAdjust="spacingAndGlyphs">Buy TURBO</text>
<text x="1291.07" y="48.3" font-size="26" font-weight="bold" fill="#3F65F0" textLength="119.96" lengthAdjust="spacingAndGlyphs">DEX Mode</text>
<text x="50.04" y="162" font-size="25" font-weight="bold" fill="#0D1421" textLength="58.46" lengthAdjust="spacingAndGlyphs">Price</text>
<text x="144.40" y="162" font-size="25" font-weight="normal" fill="#58667E" stroke="#58667E" stroke-width="0.3" textLength="97.54" lengthAdjust="spacingAndGlyphs">Mkt Cap</text>
<text x="417.00" y="162" font-size="25" font-weight="normal" fill="#58667E" stroke="#58667E" stroke-width="0.3" textLength="140.73" lengthAdjust="spacingAndGlyphs">TradingView</text>
<text x="968.38" y="162" font-size="25" font-weight="normal" fill="#A6B0C3" stroke="#A6B0C3" stroke-width="0.3" textLength="104.54" lengthAdjust="spacingAndGlyphs">Compare</text>
<text x="1168.00" y="162" font-size="25" font-weight="bold" fill="#0D1421" textLength="44.31" lengthAdjust="spacingAndGlyphs">24h</text>
<text x="1248.05" y="162" font-size="25" font-weight="normal" fill="#58667E" stroke="#58667E" stroke-width="0.3" textLength="33.09" lengthAdjust="spacingAndGlyphs">1M</text>
<text x="1318.70" y="162" font-size="25" font-weight="normal" fill="#58667E" stroke="#58667E" stroke-width="0.3" textLength="28.49" lengthAdjust="spacingAndGlyphs">All</text>
<text x="1407.00" y="314" font-size="22.8" font-weight="normal" fill="#808A9D">0.00152</text>
<text x="1407.00" y="396" font-size="22.8" font-weight="normal" fill="#808A9D">0.00151</text>
<text x="1407.00" y="480" font-size="22.8" font-weight="normal" fill="#808A9D">0.00150</text>
<text x="1407.00" y="562" font-size="22.8" font-weight="normal" fill="#808A9D">0.00149</text>
<text x="1407.00" y="646" font-size="22.8" font-weight="normal" fill="#808A9D">0.00148</text>
<text x="1407.00" y="728" font-size="22.8" font-weight="normal" fill="#808A9D">0.00147</text>
<text x="1407.00" y="812" font-size="22.8" font-weight="normal" fill="#808A9D">0.00146</text>
<text x="28.49" y="945.8" font-size="22.6" font-weight="normal" fill="#808A9D" textLength="68.69" lengthAdjust="spacingAndGlyphs">27 Jan</text>
<text x="210.00" y="945.8" font-size="22.6" font-weight="normal" fill="#808A9D" textLength="87.90" lengthAdjust="spacingAndGlyphs">4:00 AM</text>
<text x="435.00" y="945.8" font-size="22.6" font-weight="normal" fill="#808A9D" textLength="88.41" lengthAdjust="spacingAndGlyphs">8:00 AM</text>
<text x="653.97" y="945.8" font-size="22.6" font-weight="normal" fill="#808A9D" textLength="99.40" lengthAdjust="spacingAndGlyphs">12:00 PM</text>
<text x="886.00" y="945.8" font-size="22.6" font-weight="normal" fill="#808A9D" textLength="87.90" lengthAdjust="spacingAndGlyphs">4:00 PM</text>
<text x="1112.00" y="945.8" font-size="22.6" font-weight="normal" fill="#808A9D" textLength="86.88" lengthAdjust="spacingAndGlyphs">8:00 PM</text>
<text x="1344.97" y="945.8" font-size="22.6" font-weight="normal" fill="#808A9D" textLength="70.12" lengthAdjust="spacingAndGlyphs">28 Jan</text>
<text x="1420.01" y="907.5" font-size="24" font-weight="bold" fill="#808A9D" textLength="50.32" lengthAdjust="spacingAndGlyphs">USD</text>
<text x="78.00" y="1128" font-size="22.6" font-weight="normal" fill="#808A9D" textLength="66.58" lengthAdjust="spacingAndGlyphs">Jul &#39;23</text>
<text x="324.00" y="1128" font-size="22.6" font-weight="normal" fill="#808A9D" textLength="73.58" lengthAdjust="spacingAndGlyphs">Jan &#39;24</text>
<text x="576.00" y="1128" font-size="22.6" font-weight="normal" fill="#808A9D" textLength="66.08" lengthAdjust="spacingAndGlyphs">Jul &#39;24</text>
<text x="823.50" y="1128" font-size="22.6" font-weight="normal" fill="#808A9D" textLength="74.08" lengthAdjust="spacingAndGlyphs">Jan &#39;25</text>
<text x="1073.00" y="1128" font-size="22.6" font-weight="normal" fill="#808A9D" textLength="66.08" lengthAdjust="spacingAndGlyphs">Jul &#39;25</text>
<text x="1319.50" y="1128" font-size="22.6" font-weight="normal" fill="#808A9D" textLength="74.08" lengthAdjust="spacingAndGlyphs">Jan &#39;26</text>
<text x="1148" y="821" font-size="30.5" font-weight="normal" fill="#D0D6E3" stroke="#D0D6E3" stroke-width="1.8" stroke-linejoin="round" textLength="215" lengthAdjust="spacingAndGlyphs">CoinMarketCap</text>
<!-- price tag -->
<rect x="1394" y="304" width="110" height="50" rx="6" fill="#5CC28A"/>
<!-- base label -->
<rect x="33.5" y="528" width="111.5" height="41" rx="10" fill="#fff" fill-opacity="0.9"/>
<!-- history badge -->
<path d="M38,975 Q46,962 62,962 L82,962 A24,24 0 0 1 82,1010 L62,1010 Q46,1010 38,997 L28,986 Z" fill="#A6B0C3"/>
<!-- analyze button -->
<rect x="1222" y="962" width="172" height="48" rx="24" fill="#3F63F0"/>
<path d="M1300,963 L1308,954 L1316,963 Z" fill="#3F63F0"/>
<!-- mini chart -->
<rect x="28" y="1014" width="1366" height="2" fill="#F2F3F5"/>
<g fill="#F0F1F3">
<rect x="110" y="1016" width="2" height="79"/>
<rect x="360" y="1016" width="2" height="79"/>
<rect x="608" y="1016" width="2" height="79"/>
<rect x="858" y="1016" width="2" height="79"/>
<rect x="1104" y="1016" width="2" height="79"/>
<rect x="1357" y="1016" width="2" height="79"/>
</g>
<path d="M27.8,1095.5 C29.4,1093.9 34.2,1086.5 37.6,1085.8 C41.0,1085.1 41.1,1089.7 48.2,1091.1 C55.3,1092.5 34.2,1093.5 80.0,1094.0 C125.8,1094.5 279.5,1094.4 323.0,1094.0 C366.5,1093.6 334.6,1091.7 340.8,1091.5 C347.0,1091.3 343.9,1092.7 360.0,1092.9 C376.1,1093.1 422.1,1093.9 437.7,1092.9 C453.3,1091.9 448.1,1087.4 453.6,1086.9 C459.2,1086.4 465.7,1089.7 471.0,1090.0 C476.3,1090.3 480.0,1088.8 485.3,1089.0 C490.6,1089.2 495.4,1090.8 503.0,1091.1 C510.6,1091.4 524.5,1091.6 531.0,1091.1 C537.5,1090.6 538.2,1089.1 541.7,1088.3 C545.2,1087.5 548.7,1090.1 551.7,1086.2 C554.7,1082.3 556.6,1070.5 559.6,1064.8 C562.6,1059.1 566.3,1053.8 570.0,1051.8 C573.7,1049.8 578.4,1050.9 581.8,1053.1 C585.1,1055.3 587.1,1063.8 590.1,1064.8 C593.1,1065.8 596.8,1059.0 600.0,1058.8 C603.2,1058.6 606.2,1062.1 609.2,1063.5 C612.2,1064.9 615.0,1066.0 618.3,1067.4 C621.6,1068.8 625.7,1075.2 628.8,1071.9 C631.9,1068.7 634.1,1050.0 637.1,1047.9 C640.1,1045.9 643.6,1056.0 647.0,1059.6 C650.4,1063.2 653.6,1067.8 657.5,1069.5 C661.4,1071.2 665.7,1070.2 670.5,1069.5 C675.3,1068.8 682.1,1065.1 686.2,1065.6 C690.4,1066.1 690.8,1072.0 695.4,1072.7 C700.0,1073.4 708.6,1072.5 713.6,1070.0 C718.6,1067.5 722.1,1059.9 725.4,1057.5 C728.7,1055.1 730.2,1055.7 733.2,1055.7 C736.2,1055.7 740.3,1060.8 743.1,1057.5 C745.9,1054.2 747.1,1041.1 750.2,1036.1 C753.4,1031.1 758.1,1027.5 762.0,1027.5 C765.9,1027.5 770.6,1033.1 773.7,1036.1 C776.8,1039.0 778.1,1045.5 780.7,1045.2 C783.3,1044.9 785.9,1035.6 789.3,1034.0 C792.7,1032.4 797.6,1033.5 801.1,1035.6 C804.6,1037.7 807.2,1045.9 810.2,1046.6 C813.2,1047.3 816.6,1044.0 819.4,1040.0 C822.2,1036.0 823.8,1025.0 827.2,1022.3 C830.6,1019.6 836.2,1020.6 839.7,1023.6 C843.2,1026.5 843.7,1038.9 848.1,1040.0 C852.5,1041.1 861.6,1029.9 866.4,1030.1 C871.2,1030.3 873.1,1036.9 876.8,1041.3 C880.5,1045.7 885.1,1053.2 888.6,1056.2 C892.1,1059.2 894.9,1057.5 897.7,1059.6 C900.5,1061.7 901.6,1066.8 905.5,1068.7 C909.4,1070.6 914.8,1070.4 921.2,1070.8 C927.6,1071.2 938.8,1069.6 943.8,1071.3 C948.8,1073.0 946.6,1079.7 951.5,1081.2 C956.4,1082.8 966.6,1079.9 973.0,1080.6 C979.4,1081.3 985.2,1084.8 989.8,1085.2 C994.4,1085.6 997.3,1083.4 1000.6,1082.7 C1003.9,1082.0 1006.7,1084.4 1009.8,1081.2 C1012.9,1078.0 1014.4,1067.7 1019.0,1063.7 C1023.6,1059.8 1032.6,1058.0 1037.4,1057.5 C1042.2,1057.0 1044.5,1060.0 1048.1,1060.6 C1051.7,1061.2 1055.2,1060.0 1058.8,1061.2 C1062.4,1062.4 1064.5,1065.8 1069.6,1067.7 C1074.7,1069.7 1085.2,1071.7 1089.5,1072.9 C1093.8,1074.1 1092.8,1075.5 1095.6,1075.0 C1098.4,1074.5 1101.8,1071.2 1106.4,1069.8 C1111.0,1068.4 1119.0,1068.4 1123.3,1066.7 C1127.6,1065.0 1128.9,1060.6 1132.5,1059.7 C1136.1,1058.8 1141.4,1060.2 1144.7,1061.5 C1148.0,1062.8 1149.3,1067.2 1152.4,1067.4 C1155.5,1067.6 1159.8,1063.0 1163.1,1062.8 C1166.4,1062.6 1167.2,1064.9 1172.3,1066.1 C1177.4,1067.3 1187.7,1069.5 1193.8,1069.8 C1199.9,1070.1 1203.5,1067.3 1209.1,1067.7 C1214.7,1068.1 1222.4,1071.3 1227.5,1072.0 C1232.6,1072.7 1236.2,1071.2 1239.8,1072.0 C1243.4,1072.8 1244.4,1075.7 1249.0,1076.9 C1253.6,1078.1 1262.3,1078.3 1267.4,1079.0 C1272.5,1079.7 1273.6,1080.2 1279.7,1081.2 C1285.8,1082.2 1298.1,1085.1 1304.2,1085.2 C1310.3,1085.3 1310.4,1082.4 1316.5,1082.1 C1322.6,1081.8 1334.9,1083.3 1341.0,1083.6 C1347.1,1083.8 1349.7,1083.9 1353.3,1083.6 C1356.9,1083.2 1356.4,1081.2 1362.5,1081.5 C1368.6,1081.8 1385.4,1084.6 1390.0,1085.2 L1390,1095.5 L27.8,1095.5 Z" fill="#EDF0F3"/>
<rect x="28" y="1094" width="1366" height="2" fill="#EEF0F3"/>
<rect x="1390" y="1014" width="4" height="20" fill="#F0F1F3"/>
<rect x="1390" y="1074" width="4" height="22" fill="#F0F1F3"/>
<rect x="1386" y="1047" width="2" height="14" fill="#A6B0C3"/>
<rect x="1392" y="1047" width="2" height="14" fill="#A6B0C3"/>

<g fill="none" stroke="#fff" stroke-width="2.3" stroke-linecap="round" stroke-linejoin="round">
<path d="M52.6,991.9 A9.8,9.8 0 1 0 51.5,980.6"/>
<path d="M60,979.2 L60,985.1 L65,988.3"/>
</g>
<path d="M47.6,981 L54.2,982.2 L49.6,986.8 Z" fill="#fff" stroke="#fff" stroke-width="1" stroke-linejoin="round"/>
<g fill="none" stroke="#fff" stroke-width="2.3" stroke-linecap="round" stroke-linejoin="round">
<path d="M1258.5,994.5 C1255,997 1252,997.8 1249.5,997.6 C1246.5,997.4 1245,996.2 1243.5,996.2 C1242,996.2 1240,997.5 1238.3,997.8 L1239.6,992.5 C1238.6,990.5 1238,988 1238,985.5 A12,12 0 0 1 1262,985.5 C1262,988 1261,989.6 1259.3,989.6 C1257.5,989.6 1257,988 1256.6,985 C1256.2,982.5 1255.5,982 1254.6,983 L1250,990 C1249.2,991 1248.8,990.5 1248.8,989 L1248.5,982 C1248.3,980.5 1247.6,980.5 1246.8,981.6 L1243,988.5"/>
<path d="M1363.8,979.5 L1370.6,986 L1363.8,992.5"/>
</g>
<text x="1407.00" y="338" font-size="22.8" font-weight="normal" fill="#FFFFFF" textLength="79.66" lengthAdjust="spacingAndGlyphs">0.00151</text>
<text x="40.70" y="557.7" font-size="22.2" font-weight="normal" fill="#58667E" textLength="94.55" lengthAdjust="spacingAndGlyphs">0.001491</text>
<text x="80.00" y="994" font-size="23" font-weight="normal" fill="#FFFFFF" textLength="12.79" lengthAdjust="spacingAndGlyphs">2</text>
<text x="1270.70" y="994" font-size="23" font-weight="normal" fill="#FFFFFF" stroke="#FFFFFF" stroke-width="0.3" textLength="82.40" lengthAdjust="spacingAndGlyphs">Analyze</text>
</svg>
</body></html>
